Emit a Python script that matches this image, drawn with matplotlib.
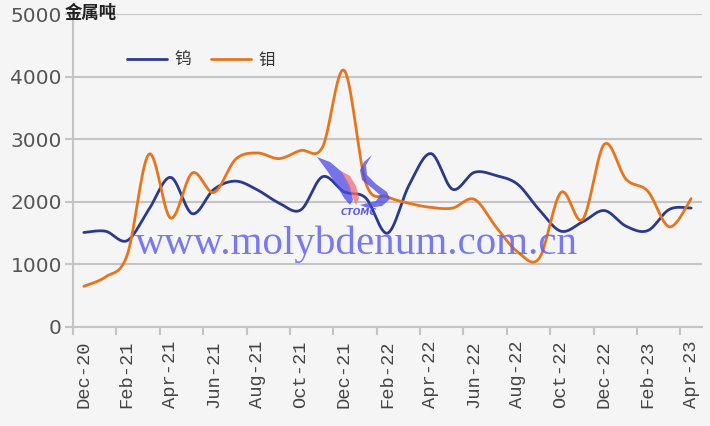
import numpy as np
import matplotlib
matplotlib.use("Agg")
import matplotlib.pyplot as plt
import matplotlib.transforms as mtransforms
from matplotlib.patches import PathPatch
from matplotlib.path import Path

months = ["Dec-20", "Jan-21", "Feb-21", "Mar-21", "Apr-21", "May-21", "Jun-21",
          "Jul-21", "Aug-21", "Sep-21", "Oct-21", "Nov-21", "Dec-21", "Jan-22",
          "Feb-22", "Mar-22", "Apr-22", "May-22", "Jun-22", "Jul-22", "Aug-22",
          "Sep-22", "Oct-22", "Nov-22", "Dec-22", "Jan-23", "Feb-23", "Mar-23",
          "Apr-23"]
tungsten = [1510, 1530, 1380, 1880, 2390, 1810, 2200, 2330, 2190, 1980, 1870,
            2400, 2160, 2060, 1500, 2270, 2770, 2200, 2470, 2420, 2280, 1870,
            1530, 1680, 1860, 1610, 1540, 1880, 1900]
molybdenum = [650, 800, 1150, 2760, 1740, 2460, 2150, 2680, 2780, 2690, 2820,
              2870, 4100, 2300, 2080, 1975, 1910, 1900, 2040, 1600, 1200, 1100,
              2150, 1720, 2920, 2360, 2170, 1600, 2050]
series_names = ["钨", "钼"]
y_ticks = [0, 1000, 2000, 3000, 4000, 5000]
unit_label = "金属吨"

plt.rcParams['font.family'] = ['Noto Sans CJK SC', 'DejaVu Sans']

BG = "#f5f5f5"
W, H = 710, 426
fig = plt.figure(figsize=(7.1, 4.26), dpi=100, facecolor=BG)
ax = fig.add_axes([73/W, 1-327/H, (702-73)/W, (327-14)/H], facecolor=BG)


def smooth(xs, ys, n=30):
    p = np.column_stack([xs, ys]).astype(float)
    ext = np.vstack([p[0], p, p[-1]])
    out = []
    for i in range(len(p) - 1):
        p0, p1, p2, p3 = ext[i], ext[i+1], ext[i+2], ext[i+3]
        c1 = p1 + (p2 - p0) / 6.0
        c2 = p2 - (p3 - p1) / 6.0
        t = np.linspace(0, 1, n, endpoint=(i == len(p) - 2))[:, None]
        seg = ((1-t)**3)*p1 + 3*((1-t)**2)*t*c1 + 3*(1-t)*(t**2)*c2 + (t**3)*p2
        out.append(seg)
    out = np.vstack(out)
    return out[:, 0], out[:, 1]


x = np.arange(len(months))
bx, by = smooth(x, tungsten)
ox, oy = smooth(x, molybdenum)
ax.plot(bx, by, color="#2b3a8c", lw=2.0, solid_capstyle="round", zorder=3, label=series_names[0])
ax.plot(ox, oy, color="#e8741c", lw=2.0, solid_capstyle="round", zorder=3, label=series_names[1])

ax.set_xlim(-0.5, len(months) - 0.5)
ax.set_ylim(0, 5000)
ax.set_yticks(y_ticks)
ax.set_yticklabels([str(v) for v in y_ticks], fontsize=14.5, color="#555555",
                   family=['DejaVu Sans'])
ax.grid(axis="y", color="#c4c4c4", lw=1.5, zorder=0)
ax.tick_params(axis="y", length=6, color="#c4c4c4", width=1.5, pad=2)

# category labels every 2 months; tick marks at category boundaries
ax.set_xticks(x[::2])
ax.set_xticklabels(months[::2], rotation=90, fontsize=13.5, color="#444444",
                   family=['Liberation Mono'])
offset = mtransforms.ScaledTranslation(4/100, 0, fig.dpi_scale_trans)
for lab in ax.get_xticklabels():
    lab.set_transform(lab.get_transform() + offset)
ax.set_xticks(np.arange(-0.5, len(months) - 0.5, 2), minor=True)
ax.tick_params(axis="x", which="major", length=0, pad=10)
ax.tick_params(axis="x", which="minor", length=6, color="#c4c4c4", width=1.5)

for s in ["top", "right"]:
    ax.spines[s].set_visible(False)
for s in ["left", "bottom"]:
    ax.spines[s].set_color("#c4c4c4")
    ax.spines[s].set_linewidth(1.5)

fig.text(65/W, 1-13/H, unit_label, fontsize=12.5, fontweight="bold",
         color="#222222", va="center", ha="left")

leg = ax.legend(loc="center left", bbox_to_anchor=((127-73)/629, (327-60)/313), ncol=2,
                frameon=False, fontsize=12, handlelength=2.4, handletextpad=0.45,
                columnspacing=1.2, borderpad=0, borderaxespad=0)
for t in leg.get_texts():
    t.set_color("#333333")

# watermark
fig.text(356/W, 1-244/H, "www.molybdenum.com.cn", fontsize=29.5,
         family=['Liberation Serif'], color="#6262ee", alpha=0.85,
         ha="center", va="center", zorder=5)


# logo
def blob(pts, color, alpha):
    verts = [(px/W, 1-py/H) for px, py in pts] + [(pts[0][0]/W, 1-pts[0][1]/H)]
    codes = [Path.MOVETO] + [Path.LINETO] * (len(verts) - 2) + [Path.CLOSEPOLY]
    fig.patches.append(PathPatch(Path(verts, codes), transform=fig.transFigure,
                                 facecolor=color, edgecolor="none", alpha=alpha, zorder=6))

blob([(317, 157), (330, 162), (342, 172), (350, 186), (353, 200), (350, 205),
      (344, 198), (337, 186), (328, 172)], "#4a4ae6", 0.75)
blob([(341, 171), (350, 176), (356, 186), (359, 198), (356, 205), (352, 196),
      (348, 184)], "#f06a78", 0.75)
blob([(372, 155), (366, 165), (367, 175), (376, 184), (387, 192), (390, 199),
      (382, 206), (368, 208), (360, 205), (376, 201), (380, 195), (372, 188),
      (362, 180), (360, 170), (364, 162)], "#4a4ae6", 0.75)
fig.text(359/W, 1-212/H, "CTOMC", fontsize=6.5, fontweight="bold", style="italic",
         color="#4a4ae8", ha="center", va="center", family=['DejaVu Sans'], alpha=0.9)

fig.savefig("out.png", dpi=100, facecolor=BG)
